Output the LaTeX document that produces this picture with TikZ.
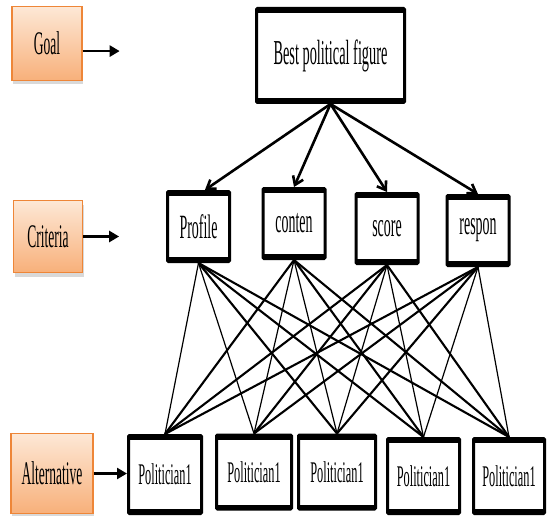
\documentclass[tikz,border=0pt]{standalone}
\usepackage{fontspec}
\newfontfamily\cond[FakeStretch=0.41]{Liberation Serif}
\usetikzlibrary{positioning,arrows.meta,shadows}

\definecolor{tagtop}{HTML}{FDE8D6}
\definecolor{tagbot}{HTML}{F8B07A}
\definecolor{tagedge}{HTML}{EE8638}

\begin{document}
\begin{tikzpicture}[
    x=1pt, y=-1pt,
    font=\cond,
    tag/.style   ={draw=tagedge, line width=1.3pt, top color=tagtop, bottom color=tagbot,
                   inner sep=0pt, font=\cond\fontsize{33}{36}\selectfont,
                   drop shadow={shadow xshift=1pt, shadow yshift=-4pt, opacity=.3}},
    box/.style   ={draw, line width=3pt, fill=white, rounded corners=1pt, inner sep=0pt,
                   path picture={\draw[line width=9pt]
                     (path picture bounding box.north west) -- (path picture bounding box.north east)
                     (path picture bounding box.south west) -- (path picture bounding box.south east);}},
    goalbox/.style={box, minimum width=148pt, minimum height=94pt,
                   font=\cond\fontsize{35}{38}\selectfont},
    critbox/.style={box, minimum width=62pt, minimum height=70pt,
                   font=\cond\fontsize{34}{36}\selectfont},
    altbox/.style ={box, minimum height=74pt, font=\cond\fontsize{30}{33}\selectfont},
    level/.style ={-{Triangle[length=10pt,width=11pt]}, line width=2.8pt},
    down/.style  ={-{Straight Barb[length=8pt,width=11pt]}, line width=2.6pt},
    link/.style  ={line width=2.1pt},
    steep/.style ={line width=1.2pt},
  ]
  \useasboundingbox (0,0) rectangle (549,516);

  % ------------------------------------------------------------ levels ---
  \node[tag, minimum width=70pt, minimum height=74pt] (goal) at (47,43.5) {Goal};
  \node[tag, minimum width=69pt, minimum height=72pt] (crit) at (48,236.5) {Criteria};
  \node[tag, minimum width=82pt, minimum height=80pt] (alt)  at (52,473.5) {Alternative};

  % -------------------------------------------------------------- goal ---
  \node[goalbox] (best) at (330.5,55.5) {Best political figure};

  % ---------------------------------------------------------- criteria ---
  \node[critbox] (c1) at (198.5,226.5) {Profile};
  \node[critbox] (c2) at (294,223.5)   {conten};
  \node[critbox] (c3) at (387,228.5)   {score};
  \node[critbox] (c4) at (478,230.5)   {respon};

  % ------------------------------------------------------- alternatives ---
  \node[altbox, minimum width=73pt, minimum height=78pt] (p1) at (165,474.5) {Politician1};
  \node[altbox, minimum width=75pt] (p2) at (254,472) {Politician1};
  \node[altbox, minimum width=77pt] (p3) at (337,472) {Politician1};
  \node[altbox, minimum width=72pt, minimum height=75pt] (p4) at (423.5,476) {Politician1};
  \node[altbox, minimum width=71pt, minimum height=75pt] (p5) at (509,476)   {Politician1};

  % ===================================================== edges ================
  % level tags point at their row
  \coordinate[right=37pt of goal.-12] (goaltip);
  \coordinate[right=36pt of crit.east] (crittip);
  \draw[level] (goal.-12) -- (goaltip);
  \draw[level] (crit.east) -- (crittip);
  \draw[level] (alt.east) -- (alt.east -| p1.west);

  % goal -> criteria
  \draw[down] (best.south) -- (c1.80);
  \draw[down] (best.south) -- (c2.north);
  \draw[down] (best.south) -- (c3.north);
  \draw[down] (best.south) -- (c4.north);

  % criteria -> alternatives (every pair)
  \draw[steep] (c1.south) -- (p1.north);
  \draw[steep] (c1.south) -- (p2.north);
  \draw[link]  (c1.south) -- (p3.north);
  \draw[link]  (c1.south) -- (p4.north);
  \draw[link]  (c1.south) -- (p5.north);

  \draw[link]  (c2.south) -- (p1.north);
  \draw[steep] (c2.south) -- (p2.north);
  \draw[steep] (c2.south) -- (p3.north);
  \draw[link]  (c2.south) -- (p4.north);
  \draw[link]  (c2.south) -- (p5.north);

  \draw[link]  (c3.south) -- (p1.north);
  \draw[link]  (c3.south) -- (p2.north);
  \draw[steep] (c3.south) -- (p3.north);
  \draw[steep] (c3.south) -- (p4.north);
  \draw[link]  (c3.south) -- (p5.north);

  \draw[link]  (c4.south) -- (p1.north);
  \draw[link]  (c4.south) -- (p2.north);
  \draw[link]  (c4.south) -- (p3.north);
  \draw[steep] (c4.south) -- (p4.north);
  \draw[steep] (c4.south) -- (p5.north);

\end{tikzpicture}
\end{document}
